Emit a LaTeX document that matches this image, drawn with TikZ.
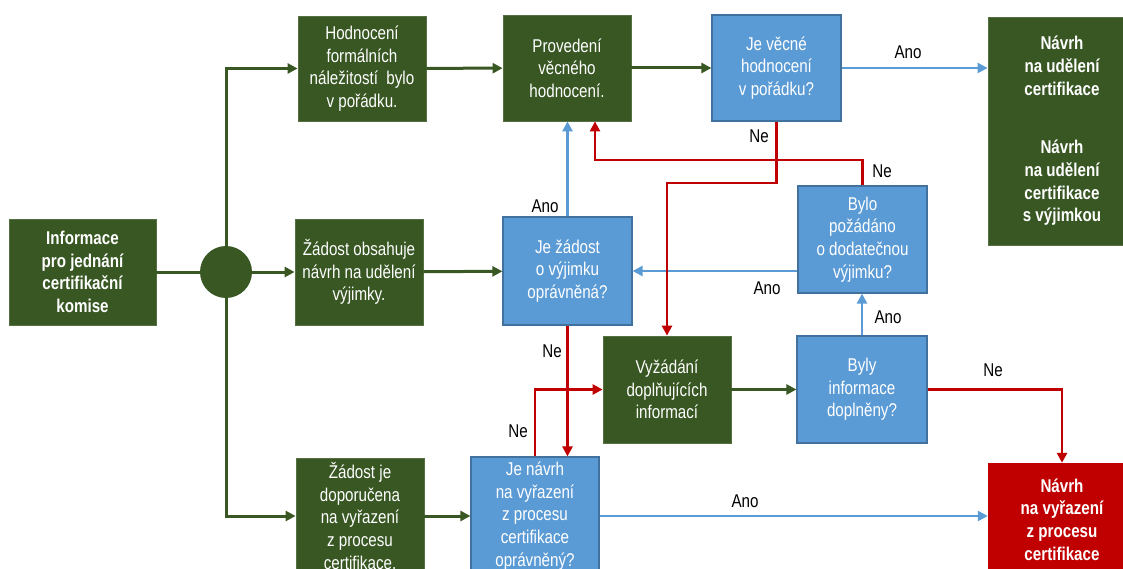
\documentclass[tikz,border=0pt]{standalone}
\usepackage{fontspec}
\setmainfont{Liberation Sans}[FakeStretch=0.82]
\usetikzlibrary{arrows.meta,positioning}

\definecolor{zelena}{HTML}{385723}
\definecolor{modra}{HTML}{5B9BD5}
\definecolor{modrahr}{HTML}{41719C}
\definecolor{cervena}{HTML}{C00000}

\begin{document}
\begin{tikzpicture}[
    x = 1pt, y = -1pt, % pixel grid, y goes down
    > = {Triangle[length=10pt,width=10pt]}, % arrow head style
    font = \fontsize{18.5}{22.7}\selectfont,
    ]

    \tikzset{
    box/.style = {rectangle, inner sep = 0pt, align = center, text = white},
    zbox/.style = {box, fill = zelena, draw = zelena!85!white, line width = 0.8pt},
    mbox/.style = {box, fill = modra, draw = modrahr, line width = 1.2pt},
    cbox/.style = {box, fill = cervena, draw = cervena},
    tucne/.style = {font = \fontsize{18.5}{22.7}\selectfont\bfseries},
    zline/.style = {draw = zelena, line width = 3pt},
    mline/.style = {draw = modra, line width = 2.4pt},
    cline/.style = {draw = cervena, line width = 2.8pt},
    lbl/.style = {inner sep = 0pt, text = black},
    }

    \useasboundingbox (0,0) rectangle (1123,569);

    % boxes
    \node[zbox, tucne, minimum width=147pt, minimum height=106pt] (info) at (82.5,272)
        {Informace\\pro jednání\\certifikační\\komise};
    \node[circle, fill=zelena, minimum size=52pt, inner sep=0pt] (uzel) at (226,272) {};
    \node[zbox, minimum width=128pt, minimum height=105pt] (hod) at (362,68.5)
        {Hodnocení\\formálních\\náležitostí~ bylo\\v pořádku.};
    \node[zbox, minimum width=128pt, minimum height=106pt] (zob) at (359,272)
        {Žádost obsahuje\\návrh na udělení\\výjimky.};
    \node[zbox, minimum width=128pt, minimum height=116pt] (zdop) at (360,516)
        {Žádost je\\doporučena\\na vyřazení\\z procesu\\certifikace.};
    \node[zbox, minimum width=128pt, minimum height=106pt] (prov) at (567,68)
        {Provedení\\věcného\\hodnocení.};
    \node[mbox, minimum width=129pt, minimum height=106pt] (jvh) at (776.5,68)
        {Je věcné\\hodnocení\\v pořádku?};
    \node[zbox, tucne, minimum width=148pt, minimum height=228pt] (navrh) at (1062,131)
        {Návrh\\na udělení\\certifikace\\[36pt]Návrh\\na udělení\\certifikace\\s výjimkou};
    \node[mbox, minimum width=129pt, minimum height=108pt] (jzad) at (567.5,271)
        {Je žádost\\o výjimku\\oprávněná?};
    \node[mbox, minimum width=129pt, minimum height=107pt] (bylo) at (862.5,239.5)
        {Bylo\\požádáno\\o dodatečnou\\výjimku?};
    \node[zbox, minimum width=128pt, minimum height=107pt] (vyz) at (667,389.5)
        {Vyžádání\\doplňujících\\informací};
    \node[mbox, minimum width=130pt, minimum height=107pt] (byly) at (862,389.5)
        {Byly\\informace\\doplněny?};
    \node[mbox, minimum width=128pt, minimum height=118pt] (jnav) at (535,516)
        {Je návrh\\na vyřazení\\z procesu\\certifikace\\oprávněný?};
    \node[cbox, tucne, minimum width=148pt, minimum height=113pt] (nvyr) at (1062,519.5)
        {Návrh\\na vyřazení\\z procesu\\certifikace};

    \coordinate (rA) at (595,160);
    \coordinate (rB) at (667,183);

    % green flow
    \path[zline] (info) -- (uzel);
    \path[zline,->] (uzel.north) |- (hod.west);
    \path[zline,->] (uzel) -- (zob);
    \path[zline,->] (uzel.south) |- (zdop.west);
    \path[zline,->] (hod) -- (prov);
    \path[zline,->] (prov) -- (jvh);
    \path[zline,->] (zob) -- (jzad);
    \path[zline,->] (vyz) -- (byly);
    \path[zline,->] (zdop.east) -- (zdop.east -| jnav.west);

    % blue = Ano
    \path[mline,->] (jvh.east) -- (jvh.east -| navrh.west);
    \path[mline,->] (jzad.north) -- (jzad.north |- prov.south);
    \path[mline,->] (jzad.east -| bylo.west) -- (jzad.east);
    \path[mline,->] (byly.north) -- (byly.north |- bylo.south);
    \path[mline,->] (jnav.east) -- (jnav.east -| nvyr.west);

    % red = Ne
    \path[cline,->] (jvh.south) |- (rB) -- (vyz.north);
    \path[cline,->] (bylo.north) |- (rA) -- (rA |- prov.south);
    \path[cline,->] (jzad.south) -- (jzad.south |- jnav.north);
    \path[cline,->] (jnav.north) |- (vyz.west);
    \path[cline,->] (byly.east) -| (nvyr.north);

    % labels
    \node[lbl] (ano1) at (908,52) {Ano};
    \node[lbl] (ne1) at (759,136) {Ne};
    \node[lbl] (ne2) at (882,171) {Ne};
    \node[lbl] (ano2) at (545,206) {Ano};
    \node[lbl] (ano3) at (767,288) {Ano};
    \node[lbl] (ano4) at (888,317) {Ano};
    \node[lbl] (ne3) at (552,351) {Ne};
    \node[lbl] (ne4) at (993,370) {Ne};
    \node[lbl] (ne5) at (518,431) {Ne};
    \node[lbl] (ano5) at (745,501) {Ano};
\end{tikzpicture}
\end{document}
